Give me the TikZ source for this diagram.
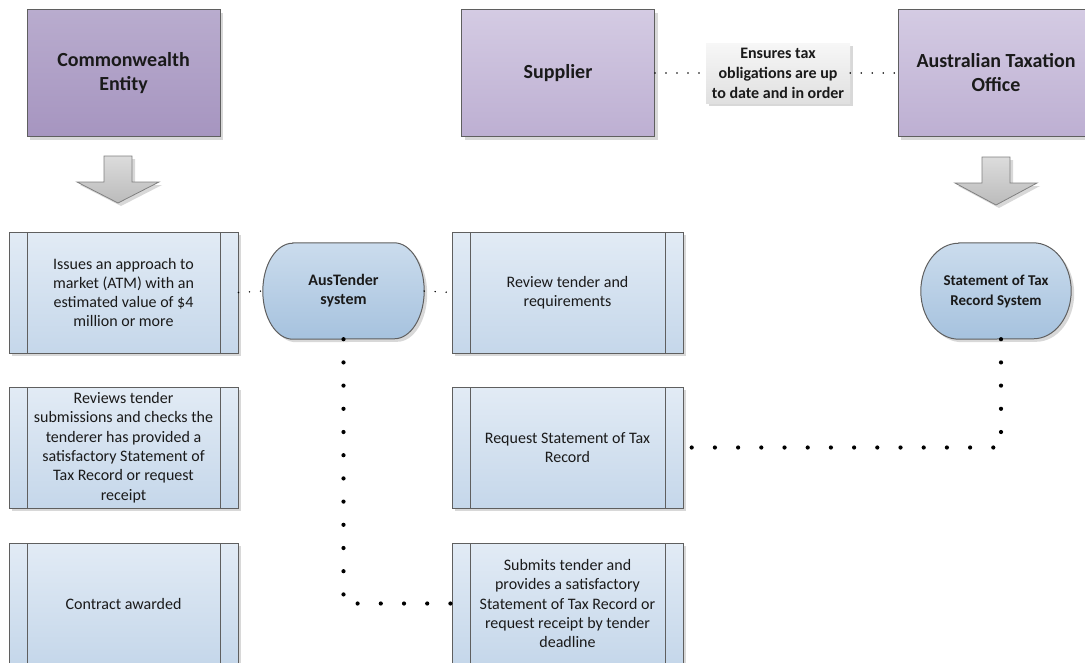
\documentclass[tikz,border=0pt]{standalone}
\usepackage{fontspec}
\setmainfont{Carlito}
\usetikzlibrary{shadows,backgrounds,calc}

\definecolor{bordergray}{HTML}{5F5F5F}
\definecolor{cetop}{HTML}{B9ACCE}
\definecolor{cebot}{HTML}{A695C0}
\definecolor{suptop}{HTML}{D4CBE3}
\definecolor{supbot}{HTML}{BDAFD2}
\definecolor{proctop}{HTML}{E2EBF5}
\definecolor{procbot}{HTML}{C5D7EA}
\definecolor{stadtop}{HTML}{CBDCED}
\definecolor{stadbot}{HTML}{A6C2DE}
\definecolor{arrtop}{HTML}{DCDCDC}
\definecolor{arrbot}{HTML}{BBBBBB}
\definecolor{labtop}{HTML}{F7F7F7}
\definecolor{labbot}{HTML}{E0E0E0}
\definecolor{txt}{HTML}{1A1A1A}

\tikzset{
  shd/.style={drop shadow={shadow xshift=3pt,shadow yshift=-3pt,opacity=.5,fill=black!30}},
  entity/.style={draw=bordergray, line width=1pt, minimum width=193pt, minimum height=127pt,
    align=center, text=txt, font=\fontsize{20}{24}\selectfont\bfseries, shd},
  ceent/.style={entity, top color=cetop, bottom color=cebot},
  supent/.style={entity, top color=suptop, bottom color=supbot},
  proc/.style={draw=bordergray, line width=1pt, top color=proctop, bottom color=procbot,
    minimum width=229pt, minimum height=121pt, inner sep=2pt, align=center, text=txt,
    font=\fontsize{16}{19.3}\selectfont, shd,
    path picture={\draw[bordergray,line width=1pt]
      ([xshift=18pt]path picture bounding box.north west) -- ([xshift=18pt]path picture bounding box.south west)
      ([xshift=-18pt]path picture bounding box.north east) -- ([xshift=-18pt]path picture bounding box.south east);}},
  procr/.style={proc, minimum width=231pt},
  stad/.style={draw=none, minimum height=96pt, align=center, text=txt, inner sep=1pt},
  labelbox/.style={top color=labtop, bottom color=labbot, minimum width=144pt, minimum height=60pt,
    align=center, text=txt, inner sep=1pt, font=\fontsize{16}{20}\selectfont\bfseries, shd},
  finedot/.style={draw=black, line width=1.6pt, line cap=round, dash pattern=on 0pt off 11pt},
  bigdot/.style={draw=black, line width=4.2pt, line cap=round, dash pattern=on 0pt off 23.2pt},
  arrowshape/.style={draw=black!50, line width=0.8pt, top color=arrtop, bottom color=arrbot, shd},
  stadshape/.style={draw=bordergray, line width=1pt, top color=stadtop, bottom color=stadbot, shd}
}

\newcommand\stadbg[3]{%
  \begin{scope}[on background layer]
    \shadedraw[stadshape] ([xshift=#2]#1.north west) -- ([xshift=-#2]#1.north east)
      arc[start angle=90,end angle=-90,x radius=#2,y radius=#3]
      -- ([xshift=#2]#1.south west)
      arc[start angle=270,end angle=90,x radius=#2,y radius=#3] -- cycle;
  \end{scope}}

\begin{document}
\begin{tikzpicture}[x=1pt,y=-1pt]
\useasboundingbox (0,0) rectangle (1085,662);

% top entities
\node[ceent]  (ce)  at (123.5,73) {Commonwealth\\Entity};
\node[supent] (sup) at (558,73)   {Supplier};
\node[supent, minimum width=196pt] (ato) at (996,73) {Australian Taxation\\Office};
\node[labelbox] (lab) at (778,73) {Ensures tax\\obligations are up\\to date and in order};

% down arrows
\shadedraw[arrowshape] (104,156) -- (132,156) -- (132,182) -- (159,182) -- (118,203) -- (77,182) -- (104,182) -- cycle;
\shadedraw[arrowshape] (982,157) -- (1010,157) -- (1010,183) -- (1037,183) -- (996,205) -- (955,183) -- (982,183) -- cycle;

% process boxes
\node[proc]  (p1)  at (123.5,292.5) {Issues an approach to\\market (ATM) with an\\estimated value of \$4\\million or more};
\node[procr] (p3)  at (567.5,292.5) {Review tender and\\requirements};
\node[proc]  (p4)  at (123.5,447.5) {Reviews tender\\submissions and checks the\\tenderer has provided a\\satisfactory Statement of\\Tax Record or request\\receipt};
\node[procr] (req) at (567.5,447.5) {Request Statement of Tax\\Record};
\node[proc]  (p6)  at (123.5,603.5) {Contract awarded};
\node[procr] (sub) at (567.5,603.5) {Submits tender and\\provides a satisfactory\\Statement of Tax Record or\\request receipt by tender\\deadline};

% systems
\node[stad, minimum width=161pt, font=\fontsize{16}{19}\selectfont\bfseries] (aus) at (343.5,291) {AusTender\\system};
\stadbg{aus}{30pt}{48pt}
\node[stad, minimum width=150pt, font=\fontsize{15}{20}\selectfont\bfseries] (sotr) at (996,291) {Statement of Tax\\Record System};
\stadbg{sotr}{38pt}{48pt}

% connectors
\draw[finedot] (sup.east) -- (lab.west);
\draw[finedot] (lab.east) -- (ato.west);
\draw[finedot] (p1.east) -- (aus.west);
\draw[finedot] (aus.east) -- (p3.west);
\draw[bigdot] (aus.south) |- (sub.west);
\draw[bigdot] ([xshift=5pt]sotr.south) |- (req.east);
\end{tikzpicture}
\end{document}
